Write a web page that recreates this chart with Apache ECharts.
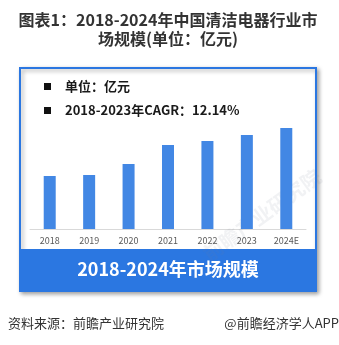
<!DOCTYPE html>
<html>
<head>
<meta charset="utf-8">
<script src="https://cdn.jsdelivr.net/npm/echarts@6/dist/echarts.min.js"></script>
<style>
  html, body { margin: 0; padding: 0; background: #ffffff; }
  #chart { width: 339px; height: 345px; }
</style>
</head>
<body>
<div id="chart"></div>
<script>
// Market size of China's cleaning appliance industry (unit: 100 million yuan)
const years = ['2018', '2019', '2020', '2021', '2022', '2023', '2024E'];
const marketSize = [265, 270, 325, 420, 440, 470, 505];

const titleLines = ['图表1：2018-2024年中国清洁电器行业市', '场规模(单位：亿元)'];
const noteLines = ['单位：亿元', '2018-2023年CAGR：12.14%'];
const bandText = '2018-2024年市场规模';
const sourceText = '资料来源：前瞻产业研究院';
const creditText = '@前瞻经济学人APP';
const watermarkText = '前瞻产业研究院';

const FONT = '"Noto Sans CJK SC", "Noto Sans", sans-serif';
const BLUE = '#2b77e1';

const chart = echarts.init(document.getElementById('chart'), null, { renderer: 'canvas' });

chart.setOption({
  backgroundColor: '#ffffff',
  animation: false,
  grid: { left: 30, right: 33, top: 109, bottom: 116, containLabel: false },
  xAxis: {
    type: 'category',
    data: years,
    axisLine: { lineStyle: { color: '#d9d9d9', width: 1 } },
    axisTick: { show: false },
    axisLabel: { color: '#595959', fontSize: 9, fontFamily: FONT, margin: 7 }
  },
  yAxis: {
    type: 'value',
    min: 0,
    max: 600,
    show: false
  },
  series: [{
    type: 'bar',
    data: marketSize,
    barWidth: 12,
    itemStyle: { color: '#4287e4' },
    z: 5
  }],
  graphic: [
    // card with shadow
    {
      type: 'rect', z: 0,
      shape: { x: 20, y: 68, width: 296, height: 223 },
      style: {
        fill: '#ffffff', stroke: BLUE, lineWidth: 2,
        shadowBlur: 4, shadowColor: 'rgba(0,0,0,0.35)', shadowOffsetX: 2, shadowOffsetY: 2
      }
    },
    // bottom blue band
    {
      type: 'rect', z: 1,
      shape: { x: 20, y: 249, width: 296, height: 42 },
      style: { fill: BLUE }
    },
    {
      type: 'text', z: 2,
      style: {
        x: 168, y: 269, text: bandText, fill: '#ffffff',
        font: 'bold 18px ' + FONT, textAlign: 'center', textVerticalAlign: 'middle'
      }
    },
    // faint diagonal watermark
    {
      type: 'text', z: 1,
      x: 262, y: 215, rotation: Math.PI / 5,
      style: {
        x: 0, y: 0, text: watermarkText, fill: 'rgba(120,130,150,0.10)',
        font: 'bold 20px ' + FONT, textAlign: 'center', textVerticalAlign: 'middle'
      }
    },
    // title
    {
      type: 'text', z: 2,
      style: {
        x: 168, y: 20, text: titleLines[0], fill: '#333333',
        font: 'bold 16px ' + FONT, textAlign: 'center', textVerticalAlign: 'middle'
      }
    },
    {
      type: 'text', z: 2,
      style: {
        x: 168, y: 39, text: titleLines[1], fill: '#333333',
        font: 'bold 16px ' + FONT, textAlign: 'center', textVerticalAlign: 'middle'
      }
    },
    // notes inside card
    {
      type: 'rect', z: 2,
      shape: { x: 44, y: 83, width: 7, height: 7 },
      style: { fill: '#111111' }
    },
    {
      type: 'text', z: 2,
      style: {
        x: 65, y: 86, text: noteLines[0], fill: '#1a1a1a',
        font: 'bold 13px ' + FONT, textAlign: 'left', textVerticalAlign: 'middle'
      }
    },
    {
      type: 'rect', z: 2,
      shape: { x: 44, y: 107, width: 7, height: 7 },
      style: { fill: '#111111' }
    },
    {
      type: 'text', z: 2,
      style: {
        x: 65, y: 110, text: noteLines[1], fill: '#1a1a1a',
        font: 'bold 13px ' + FONT, textAlign: 'left', textVerticalAlign: 'middle'
      }
    },
    // footer
    {
      type: 'text', z: 2,
      style: {
        x: 8, y: 323, text: sourceText, fill: '#333333',
        font: '13px ' + FONT, textAlign: 'left', textVerticalAlign: 'middle'
      }
    },
    {
      type: 'text', z: 2,
      style: {
        x: 339, y: 323, text: creditText, fill: '#333333',
        font: '13px ' + FONT, textAlign: 'right', textVerticalAlign: 'middle'
      }
    }
  ]
});
</script>
</body>
</html>
